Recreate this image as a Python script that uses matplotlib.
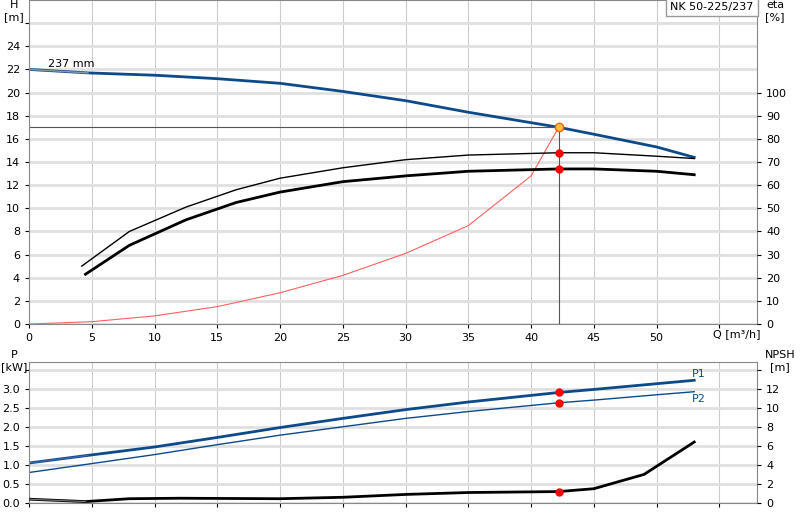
import matplotlib
matplotlib.use("Agg")
import matplotlib.pyplot as plt

q_h = [0, 4.7, 10, 15, 20, 25, 30, 35, 42.2, 45, 50, 53]
h = [22, 21.7, 21.5, 21.2, 20.8, 20.1, 19.3, 18.3, 17.0, 16.4, 15.3, 14.4]
q_e = [4.5, 8, 12.5, 16.5, 20, 25, 30, 35, 42.2, 45, 50, 53]
eta = [21.5, 34, 45, 52.5, 57, 61.5, 64, 66, 67, 67, 66, 64.5]
q_e2 = [4.2, 8, 12.5, 16.5, 20, 25, 30, 35, 42.2, 45, 50, 53]
eta2 = [25, 40, 50.5, 58, 63, 67.5, 71, 73, 74, 74, 72.5, 71.5]
q_s = [0, 5, 10, 15, 20, 25, 30, 35, 40, 42.2]
h_s = [0, 0.2, 0.7, 1.5, 2.7, 4.2, 6.1, 8.5, 12.8, 17.0]
q_p = [0, 4.7, 10, 15, 20, 25, 30, 35, 42.2, 45, 50, 53]
p1 = [1.05, 1.25, 1.47, 1.72, 1.98, 2.22, 2.45, 2.65, 2.9, 2.98, 3.13, 3.22]
p2 = [0.8, 1.02, 1.27, 1.53, 1.78, 2.0, 2.22, 2.4, 2.63, 2.7, 2.84, 2.92]
q_n = [0, 4.5, 8, 12, 20, 25, 30, 35, 42.2, 45, 49, 53]
npsh = [0.4, 0.15, 0.45, 0.5, 0.45, 0.6, 0.9, 1.1, 1.2, 1.5, 3.0, 6.4]
q_op = 42.2

blue = "#0d4a8a"
fig = plt.figure(figsize=(8, 5.2), dpi=100)
ax = fig.add_axes([29/800, 1-324/520, 728/800, 324/520])
bx = fig.add_axes([29/800, 1-503/520, 728/800, 141/520])
for a in (ax, bx):
    a.set_xlim(0, 58)
    a.set_xticks(range(0, 56, 5))
    a.grid(axis="x", color="#cccccc", lw=0.8)
    a.grid(axis="y", color="#e0e0e0", lw=2)
    a.tick_params(labelsize=8, length=3)
    for s in a.spines.values():
        s.set_color("#888888")
    a.set_axisbelow(True)

ax.set_ylim(0, 28)
ax.set_yticks(range(0, 27, 2))
ax.set_yticklabels([str(v) if v <= 24 else "" for v in range(0, 27, 2)])
e = ax.twinx()
e.set_ylim(0, 140)
e.set_yticks(range(0, 101, 10))
e.tick_params(labelsize=8, length=3)
e.spines[:].set_visible(False)

ax.plot(q_h, h, color=blue, lw=2)
ax.plot(q_h[:2], h[:2], color="#8899aa", lw=1)
e.plot(q_e, eta, color="black", lw=2)
e.plot(q_e2, eta2, color="black", lw=1)
ax.plot(q_s, h_s, color="#ff6060", lw=0.8)
ax.plot([0, q_op], [17, 17], color="#555555", lw=0.8)
ax.plot([q_op, q_op], [0, 17], color="#555555", lw=0.8)
ax.plot([q_op], [17], "o", color="#ffc040", mec="#ff6000", ms=6)
e.plot([q_op, q_op], [74, 67], "o", color="red", ms=5)
ax.text(1.5, 22.2, "237 mm", fontsize=8)
fig.text(14/800, 1.0, "H\n[m]", fontsize=8, va="top", ha="center")
fig.text(775/800, 1.0, "eta\n[%]", fontsize=8, va="top", ha="center")
ax.text(0.995, 0.995, "NK 50-225/237", transform=ax.transAxes, fontsize=8, ha="right", va="top",
        bbox=dict(boxstyle="square,pad=0.4", fc="white", ec="#999999"))
fig.text(737/800, 1-334/520, "Q [m³/h]", fontsize=8, ha="center", va="center")
ax.set_xticklabels([str(v) if v <= 50 else "" for v in range(0, 56, 5)])

bx.set_ylim(0, 3.7)
bx.set_yticks([0, 0.5, 1, 1.5, 2, 2.5, 3, 3.5])
bx.set_yticklabels(["0.0", "0.5", "1.0", "1.5", "2.0", "2.5", "3.0", ""])
bx.set_xticklabels([])
n = bx.twinx()
n.set_ylim(0, 14.8)
n.set_yticks(range(0, 15, 2))
n.set_yticklabels([str(v) if v <= 12 else "" for v in range(0, 15, 2)])
n.tick_params(labelsize=8, length=3)
n.spines[:].set_visible(False)
bx.plot(q_p, p1, color=blue, lw=2)
bx.plot(q_p[:2], p1[:2], color="#4466aa", lw=0.8)
bx.plot(q_p, p2, color=blue, lw=1)
n.plot(q_n, npsh, color="black", lw=2)
n.plot(q_n[:2], npsh[:2], color="#777777", lw=0.8)
bx.plot([q_op, q_op], [2.9, 2.63], "o", color="red", ms=5)
n.plot([q_op], [1.2], "o", color="red", ms=5)
bx.text(52.8, 3.3, "P1", color=blue, fontsize=8)
bx.text(52.8, 2.65, "P2", color=blue, fontsize=8)
fig.text(14/800, 1-350/520, "P\n[kW]", fontsize=8, va="top", ha="center")
fig.text(780/800, 1-350/520, "NPSH\n[m]", fontsize=8, va="top", ha="center")
fig.savefig("out.png")
